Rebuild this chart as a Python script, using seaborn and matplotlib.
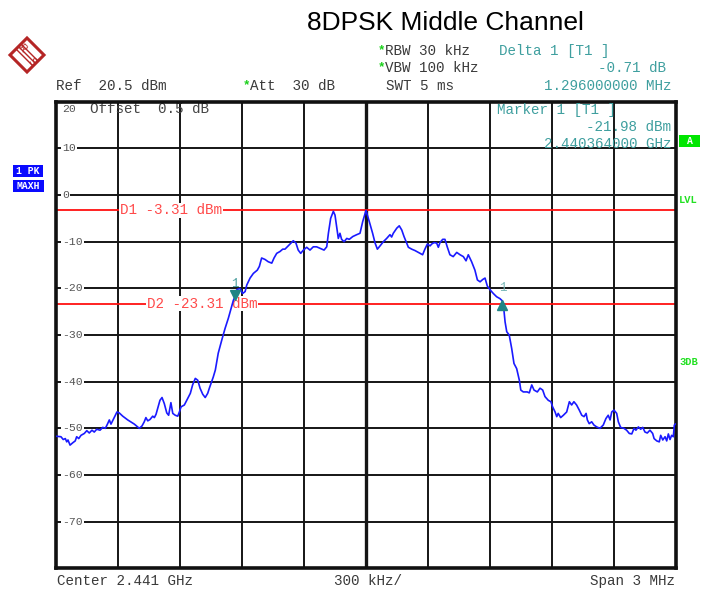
import numpy as np
import pandas as pd
import matplotlib
matplotlib.use("Agg")
import matplotlib.pyplot as plt
from matplotlib.patches import Rectangle, Polygon
import seaborn as sns

# ---- measurement data -------------------------------------------------
center_ghz = 2.441
span_mhz = 3.0
ref_level = 20.0
bottom_level = -80.0

# frequency offset from center (MHz) and level (dBm) of the max-hold trace
freq_mhz = [
    -1.500, -1.476, -1.465, -1.455, -1.448, -1.442, -1.432, -1.419, -1.407, -1.400,
    -1.390, -1.379, -1.363, -1.351, -1.339, -1.326, -1.315, -1.303, -1.287, -1.274,
    -1.261, -1.250, -1.242, -1.234, -1.223, -1.213, -1.205, -1.194, -1.177, -1.153,
    -1.121, -1.097, -1.084, -1.073, -1.065, -1.056, -1.045, -1.032, -1.024, -1.016,
    -1.008, -0.997, -0.987, -0.976, -0.964, -0.955, -0.948, -0.944, -0.935, -0.923,
    -0.911, -0.903, -0.895, -0.879, -0.863, -0.850, -0.839, -0.826, -0.814, -0.803,
    -0.790, -0.778, -0.766, -0.758, -0.750, -0.739, -0.729,
    -0.715, -0.698, -0.682, -0.666, -0.650, -0.642, -0.636, -0.626, -0.610, -0.597,
    -0.585, -0.577, -0.561, -0.545, -0.526, -0.516, -0.505, -0.489, -0.473, -0.456,
    -0.445, -0.432, -0.416, -0.403, -0.392, -0.381, -0.368, -0.352, -0.339, -0.328,
    -0.316, -0.303, -0.287, -0.271, -0.255, -0.239, -0.223, -0.203, -0.190, -0.182,
    -0.171, -0.158, -0.150, -0.142, -0.134, -0.126, -0.118, -0.106, -0.093, -0.081,
    -0.064, -0.045, -0.029, -0.016, 0.000,
    0.016, 0.032, 0.044, 0.055, 0.068, 0.084, 0.100, 0.116, 0.124, 0.132,
    0.149, 0.161, 0.173, 0.184, 0.194, 0.205, 0.221, 0.237, 0.253, 0.274,
    0.285, 0.297, 0.310, 0.318, 0.329, 0.342, 0.350, 0.358, 0.371, 0.382,
    0.393, 0.406, 0.422, 0.439, 0.455, 0.471, 0.484, 0.495, 0.511, 0.527,
    0.539, 0.552, 0.565, 0.576, 0.587, 0.600, 0.616, 0.632, 0.648, 0.660,
    0.667,
    0.673, 0.681, 0.693, 0.705, 0.716, 0.729, 0.742, 0.749, 0.761, 0.780,
    0.790, 0.802, 0.813, 0.829, 0.842, 0.855, 0.866, 0.882, 0.895, 0.903,
    0.915, 0.923, 0.930, 0.942, 0.955, 0.971, 0.984, 0.995, 1.006, 1.019,
    1.032, 1.044, 1.055, 1.065, 1.071, 1.080, 1.092, 1.103, 1.116, 1.132,
    1.148, 1.161, 1.172, 1.181, 1.189, 1.200, 1.213, 1.221, 1.232, 1.248,
    1.261, 1.274, 1.286, 1.297, 1.306, 1.318, 1.329, 1.339, 1.350, 1.361,
    1.374, 1.387, 1.394, 1.407, 1.419, 1.426, 1.436, 1.447, 1.455, 1.463,
    1.471, 1.479, 1.487, 1.492, 1.500,
]
level_dbm = [
    -51.7, -51.8, -52.4, -52.2, -52.9, -52.5, -53.6, -53.1, -52.7, -51.8,
    -52.2, -51.5, -51.1, -50.5, -51.0, -50.4, -50.8, -50.2, -50.4, -49.8,
    -50.0, -49.0, -48.2, -49.1, -48.1, -47.2, -46.5, -46.7, -47.4, -48.2,
    -49.1, -50.0, -49.5, -48.6, -47.7, -48.4, -48.1, -47.4, -47.7, -47.0,
    -45.7, -44.0, -43.4, -44.7, -46.7, -47.2, -45.4, -44.5, -46.8, -47.2,
    -47.4, -46.5, -45.4, -45.0, -43.6, -42.5, -40.7, -39.3, -39.7, -41.4,
    -42.7, -43.4, -42.5, -41.4, -40.4, -39.0, -37.5,
    -33.9, -31.1, -28.6, -26.4, -23.9, -22.6, -21.98, -20.3, -20.0, -21.1,
    -20.7, -19.3, -17.8, -16.8, -16.1, -15.3, -13.5, -13.8, -14.3, -14.6,
    -13.5, -12.5, -12.1, -11.6, -11.6, -11.1, -10.5, -9.8, -10.3, -11.8,
    -12.5, -11.8, -11.2, -11.8, -11.1, -11.1, -11.4, -11.8, -11.1, -8.2,
    -5.0, -3.5, -4.3, -6.8, -9.3, -8.2, -9.5, -10.0, -9.3, -9.5,
    -8.9, -8.5, -8.2, -5.7, -3.31,
    -5.7, -8.2, -10.3, -11.6, -10.9, -10.0, -9.3, -8.5, -9.0, -8.2,
    -7.1, -6.6, -7.5, -8.9, -10.0, -11.2, -11.6, -11.9, -12.3, -12.8,
    -11.6, -10.5, -10.9, -10.5, -10.2, -10.3, -11.2, -10.2, -9.5, -9.5,
    -11.1, -12.8, -13.2, -12.3, -12.8, -13.2, -14.1, -12.8, -14.3, -16.1,
    -18.2, -18.6, -18.1, -17.8, -19.5, -20.3, -21.1, -21.8, -22.2, -22.69,
    -24.5,
    -27.2, -29.3, -30.0, -32.9, -36.1, -37.2, -39.7, -41.8, -42.2, -42.2,
    -42.4, -40.7, -41.8, -42.2, -41.4, -41.8, -43.2, -44.0, -44.3, -45.4,
    -46.5, -47.5, -46.8, -47.7, -47.2, -46.5, -44.3, -45.0, -44.3, -45.0,
    -46.1, -47.2, -47.5, -46.8, -48.2, -49.0, -48.6, -49.3, -49.7, -50.0,
    -49.3, -47.9, -47.2, -48.2, -46.5, -46.1, -46.8, -48.6, -49.8, -50.0,
    -50.4, -51.1, -51.2, -50.0, -50.4, -49.7, -50.2, -49.8, -50.8, -51.0,
    -50.4, -51.1, -52.2, -52.7, -52.9, -51.5, -52.5, -51.8, -52.7, -51.2,
    -52.4, -51.5, -51.8, -49.3, -49.0,
]

# display lines
d1_level = -3.31
d2_level = -23.31

# markers: marker 1 (absolute) and delta 1 (relative to marker 1)
marker1_ghz = 2.440364
marker1_dbm = -21.98
delta1_mhz = 1.296
delta1_db = -0.71

grid_levels = [10, 0, -10, -20, -30, -40, -50, -60, -70]
grid_labels = ["10", "0", "-10", "-20", "-30", "-40", "-50", "-60", "-70"]

# ---- figure ------------------------------------------------------------
sns.set_style("white")
plt.rcParams["font.family"] = ["Liberation Mono", "DejaVu Sans Mono"]

W, H = 704, 592
fig = plt.figure(figsize=(W / 100, H / 100), dpi=100)
fig.patch.set_facecolor("white")


def fx(px):
    return px / W


def fy(py):
    return 1 - py / H


ax_left, ax_right, ax_top, ax_bottom = 56, 676, 101.7, 568.3
ax = fig.add_axes([fx(ax_left), fy(ax_bottom),
                   (ax_right - ax_left) / W, (ax_bottom - ax_top) / H])
half_span = span_mhz / 2
ax.set_xlim(-half_span, half_span)
ax.set_ylim(bottom_level, ref_level)
ax.set_xticks([])
ax.set_yticks([])
for sp in ax.spines.values():
    sp.set_linewidth(2.6)
    sp.set_color("#111111")

# graticule
for k in range(1, 10):
    x = -half_span + k * span_mhz / 10
    ax.axvline(x, color="#151515", lw=2.4 if k == 5 else 1.4, zorder=1)
for lv in grid_levels:
    ax.axhline(lv, color="#151515", lw=1.4, zorder=1)

# level labels drawn inside the grid
x_lab = -half_span + (62 - ax_left) / (ax_right - ax_left) * span_mhz
for lv, lab in zip(grid_levels, grid_labels):
    ax.text(x_lab, lv, lab, fontsize=8.2, color="#555555", ha="left", va="center",
            zorder=2, bbox=dict(boxstyle="square,pad=0.12", fc="white", ec="none"))
ax.text(x_lab, ref_level - 1.55, "20", fontsize=8.2, color="#555555",
        ha="left", va="center", zorder=2)
x_off = -half_span + (90 - ax_left) / (ax_right - ax_left) * span_mhz
ax.text(x_off, ref_level - 1.55, "Offset  0.5 dB", fontsize=10.3,
        color="#444444", ha="left", va="center", zorder=2)

# display lines D1 / D2
line_red = "#ff1010"
ax.axhline(d1_level, color=line_red, lw=1.3, zorder=2)
ax.axhline(d2_level, color=line_red, lw=1.3, zorder=2)
x_d1 = -half_span + (120 - ax_left) / (ax_right - ax_left) * span_mhz
x_d2 = -half_span + (147 - ax_left) / (ax_right - ax_left) * span_mhz
ax.text(x_d1, d1_level, f"D1 {d1_level:.2f} dBm", fontsize=10.3, color="#ff4a4a",
        ha="left", va="center", zorder=3,
        bbox=dict(boxstyle="square,pad=0.05", fc="white", ec="none"))
ax.text(x_d2, d2_level, f"D2 {d2_level:.2f} dBm", fontsize=10.3, color="#ff4a4a",
        ha="left", va="center", zorder=3,
        bbox=dict(boxstyle="square,pad=0.05", fc="white", ec="none"))

# trace
df = pd.DataFrame({"freq": freq_mhz, "level": level_dbm})
sns.lineplot(data=df, x="freq", y="level", ax=ax, color="#1a1aff", lw=1.2,
             estimator=None, sort=False, zorder=4, legend=False)
ax.set_xlabel("")
ax.set_ylabel("")
ax.set_xlim(-half_span, half_span)
ax.set_ylim(bottom_level, ref_level)

# markers
m1_off = (marker1_ghz - center_ghz) * 1000
d1_off = m1_off + delta1_mhz
d1_lvl = marker1_dbm + delta1_db
teal = "#1f8585"
ax.plot([m1_off], [marker1_dbm + 0.5], marker="v", ms=7, color=teal, zorder=5, ls="none")
ax.plot([d1_off], [d1_lvl - 0.9], marker="^", ms=7, color=teal, zorder=5, ls="none")
ax.text(m1_off, marker1_dbm + 2.9, "1", fontsize=9, color="#4a9e9e",
        ha="center", va="center", zorder=5)
ax.text(d1_off, d1_lvl + 2.7, "1", fontsize=9, color="#7ab8b8",
        ha="center", va="center", zorder=5)

# ---- header and annotations -------------------------------------------
fig.text(fx(445), fy(23), "8DPSK Middle Channel", fontsize=19,
         family=["Liberation Sans", "DejaVu Sans"], color="black",
         ha="center", va="center")

hdr = "#3a3a3a"
info = "#3f9f9f"
star = "#19d019"
fs = 10.3
fig.text(fx(378), fy(50), "*", fontsize=9, color=star, ha="left", va="center", weight="bold")
fig.text(fx(385), fy(51), "RBW 30 kHz", fontsize=fs, color=hdr, ha="left", va="center")
fig.text(fx(378), fy(67), "*", fontsize=9, color=star, ha="left", va="center", weight="bold")
fig.text(fx(385), fy(68), "VBW 100 kHz", fontsize=fs, color=hdr, ha="left", va="center")
fig.text(fx(56), fy(86), "Ref  20.5 dBm", fontsize=fs, color=hdr, ha="left", va="center")
fig.text(fx(243), fy(85), "*", fontsize=9, color=star, ha="left", va="center", weight="bold")
fig.text(fx(250), fy(86), "Att  30 dB", fontsize=fs, color=hdr, ha="left", va="center")
fig.text(fx(386), fy(86), "SWT 5 ms", fontsize=fs, color=hdr, ha="left", va="center")

fig.text(fx(499), fy(51), "Delta 1 [T1 ]", fontsize=fs, color=info, ha="left", va="center")
fig.text(fx(666), fy(68), f"{delta1_db:.2f} dB", fontsize=fs, color=info, ha="right", va="center")
fig.text(fx(672), fy(86), f"{delta1_mhz:.9f} MHz", fontsize=fs, color=info, ha="right", va="center")

fig.text(fx(497), fy(110), "Marker 1 [T1 ]", fontsize=fs, color=info, ha="left", va="center")
fig.text(fx(671), fy(127), f"{marker1_dbm:.2f} dBm", fontsize=fs, color=info, ha="right", va="center")
fig.text(fx(671), fy(144), f"{marker1_ghz:.9f} GHz", fontsize=fs, color=info, ha="right", va="center")

# side annotations
green = "#22e022"
fig.patches.append(Rectangle((fx(679), fy(147)), 21 / W, 12 / H, transform=fig.transFigure,
                             fc="#00e600", ec="none"))
fig.text(fx(689.5), fy(141), "A", fontsize=7, color="white", weight="bold",
         ha="center", va="center")
fig.text(fx(679), fy(200), "LVL", fontsize=7.5, color=green, weight="bold", ha="left", va="center")
fig.text(fx(679), fy(362), "3DB", fontsize=7.5, color=green, weight="bold", ha="left", va="center")

blue = "#0a0aff"
fig.patches.append(Rectangle((fx(13), fy(177)), 30 / W, 12 / H, transform=fig.transFigure,
                             fc=blue, ec="none"))
fig.text(fx(28), fy(171), "1 PK", fontsize=7, color="white", weight="bold", ha="center", va="center")
fig.patches.append(Rectangle((fx(13), fy(192)), 31 / W, 12 / H, transform=fig.transFigure,
                             fc=blue, ec="none"))
fig.text(fx(28.5), fy(186), "MAXH", fontsize=7, color="white", weight="bold", ha="center", va="center")

# logo: diamond with R and S
cx, cy, r = 27, 55, 17
logo_red = "#b52525"
diamond = [(fx(cx), fy(cy - r)), (fx(cx + r), fy(cy)), (fx(cx), fy(cy + r)), (fx(cx - r), fy(cy))]
fig.patches.append(Polygon(diamond, closed=True, transform=fig.transFigure,
                           fc="white", ec=logo_red, lw=2.2))
for d in (-2.5, 0, 2.5):
    fig.lines.append(plt.Line2D([fx(cx - r / 2 + d), fx(cx + r / 2 + d)],
                                [fy(cy - r / 2 - d), fy(cy + r / 2 - d)],
                                transform=fig.transFigure, color=logo_red, lw=1.0))
fig.text(fx(cx - 5), fy(cy - 7), "R", fontsize=7, color=logo_red, rotation=-45,
         ha="center", va="center", family=["Liberation Sans", "DejaVu Sans"])
fig.text(fx(cx + 5), fy(cy + 7), "S", fontsize=7, color=logo_red, rotation=-45,
         ha="center", va="center", family=["Liberation Sans", "DejaVu Sans"])

# footer
fig.text(fx(57), fy(581), f"Center {center_ghz:.3f} GHz", fontsize=fs, color=hdr, ha="left", va="center")
fig.text(fx(368), fy(581), f"{int(span_mhz * 100)} kHz/", fontsize=fs, color=hdr, ha="center", va="center")
fig.text(fx(675), fy(581), f"Span {span_mhz:g} MHz", fontsize=fs, color=hdr, ha="right", va="center")

fig.savefig("out.png", dpi=100, facecolor="white")
